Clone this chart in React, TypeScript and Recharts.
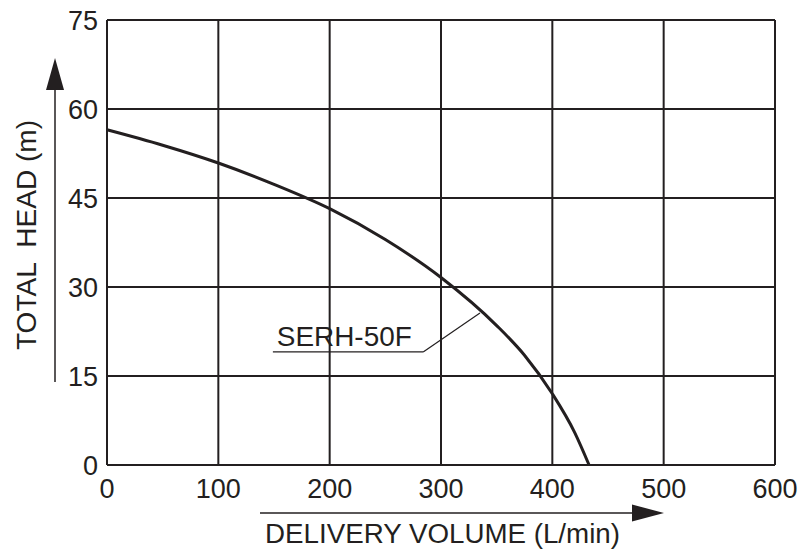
import { LineChart, Line, XAxis, YAxis, CartesianGrid, ReferenceLine, ReferenceDot } from 'recharts'

const flow = [0, 50, 100, 150, 200, 250, 300, 350, 375, 400, 420, 433]
const head = [56.5, 53.9, 50.9, 47.3, 43.2, 38.0, 31.6, 23.5, 18.5, 12.0, 5.5, 0]
const xTicks = [0, 100, 200, 300, 400, 500, 600]
const yTicks = [0, 15, 30, 45, 60, 75]
const seriesName = 'SERH-50F'

const data = flow.map((q, i) => ({ q, h: head[i] }))

const INK = '#231f20'
const FONT = '"Liberation Sans", Arial, Helvetica, sans-serif'

export default function App() {
  return (
    <div style={{ position: 'absolute', left: 0, top: 0, width: 800, height: 552, background: '#fff' }}>
      <LineChart width={800} height={552} data={data} margin={{ top: 20, right: 25, left: 47, bottom: 57 }}>
        <CartesianGrid stroke={INK} strokeWidth={2} strokeDasharray="" />
        <XAxis
          dataKey="q"
          type="number"
          domain={[0, 600]}
          ticks={xTicks}
          height={30}
          tickSize={0}
          tickMargin={14}
          axisLine={{ stroke: INK, strokeWidth: 2 }}
          tick={{ fill: INK, fontSize: 27, fontFamily: FONT }}
          interval={0}
        />
        <YAxis
          type="number"
          domain={[0, 75]}
          ticks={yTicks}
          width={60}
          tickSize={0}
          tickMargin={9}
          axisLine={{ stroke: INK, strokeWidth: 2 }}
          tick={{ fill: INK, fontSize: 27, fontFamily: FONT }}
          interval={0}
        />
        <Line
          dataKey="h"
          type="monotone"
          stroke={INK}
          strokeWidth={3}
          dot={false}
          isAnimationActive={false}
        />
        <ReferenceLine
          segment={[{ x: 149, y: 19.05 }, { x: 284, y: 19.05 }]}
          stroke={INK}
          strokeWidth={1.2}
          ifOverflow="visible"
        />
        <ReferenceLine
          segment={[{ x: 284, y: 19.05 }, { x: 335, y: 25.6 }]}
          stroke={INK}
          strokeWidth={1.2}
          ifOverflow="visible"
        />
        <ReferenceDot
          x={152.5}
          y={20}
          r={0}
          ifOverflow="visible"
          shape={(p: any) => (
            <text x={p.cx} y={p.cy} fill={INK} fontSize={28} fontFamily={FONT} textLength={135} lengthAdjust="spacingAndGlyphs">
              {seriesName}
            </text>
          )}
        />
      </LineChart>
      <svg width={800} height={552} style={{ position: 'absolute', left: 0, top: 0, pointerEvents: 'none' }}>
        <line x1={55} y1={382} x2={55} y2={88} stroke={INK} strokeWidth={1.5} />
        <polygon points="55,58 46,90 64,90" fill={INK} />
        <line x1={260} y1={513} x2={634} y2={513} stroke={INK} strokeWidth={1.5} />
        <polygon points="664,513 632,504.5 632,521.5" fill={INK} />
        <text
          x={265}
          y={543}
          fill={INK}
          fontSize={27}
          fontFamily={FONT}
          textLength={355}
          lengthAdjust="spacingAndGlyphs"
        >
          DELIVERY VOLUME (L/min)
        </text>
        <text
          x={0}
          y={0}
          transform="translate(36,350) rotate(-90)"
          fill={INK}
          fontSize={27}
          fontFamily={FONT}
          textLength={230}
          lengthAdjust="spacingAndGlyphs"
          style={{ whiteSpace: 'pre' }}
        >
          {'TOTAL  HEAD (m)'}
        </text>
      </svg>
    </div>
  )
}
